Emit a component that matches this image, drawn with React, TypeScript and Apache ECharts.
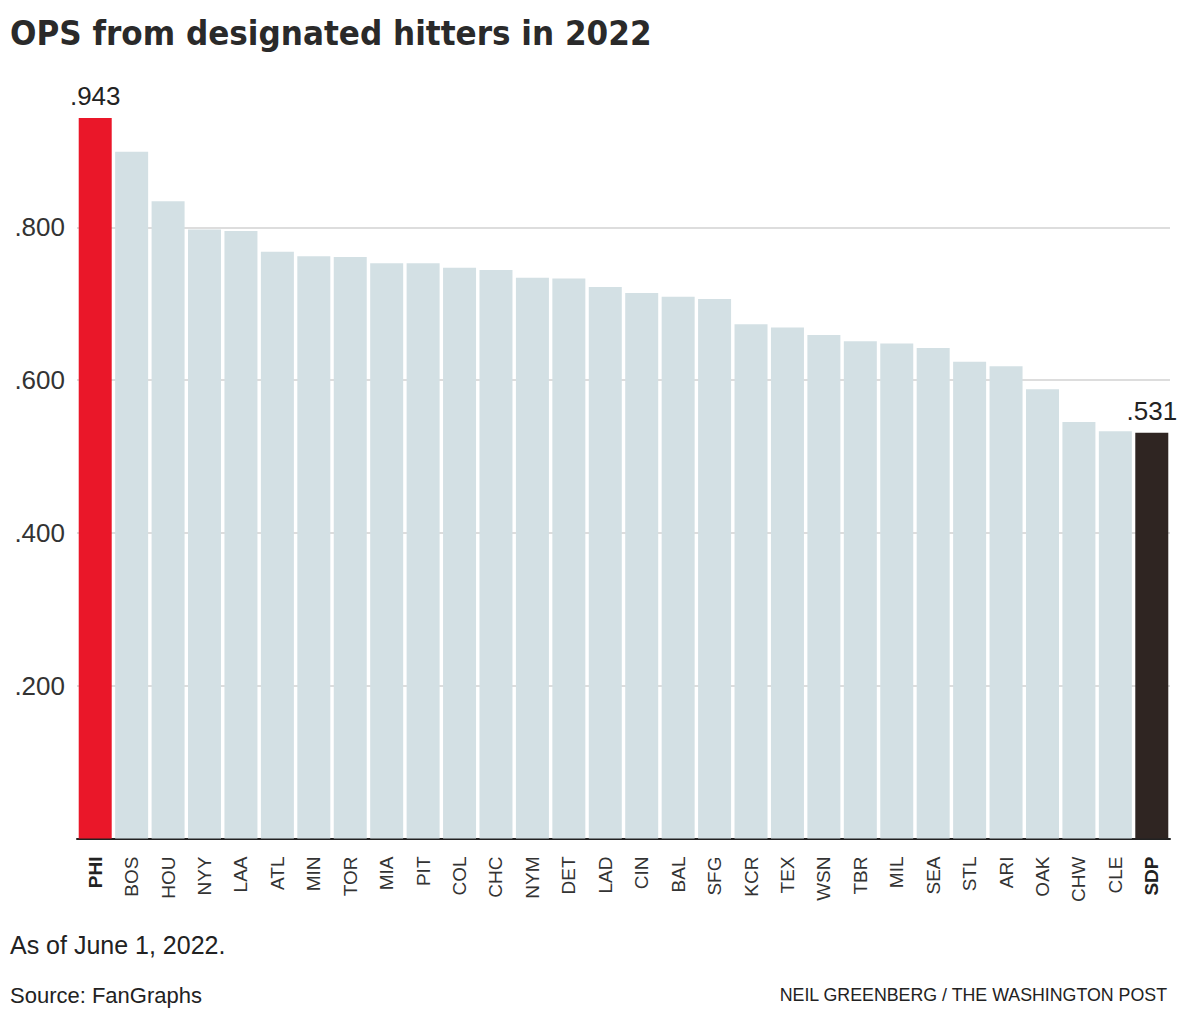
import React, { useEffect, useRef } from "react";
import * as echarts from "echarts";

const teams = ["PHI","BOS","HOU","NYY","LAA","ATL","MIN","TOR","MIA","PIT","COL","CHC","NYM","DET","LAD","CIN","BAL","SFG","KCR","TEX","WSN","TBR","MIL","SEA","STL","ARI","OAK","CHW","CLE","SDP"];
const ops = [0.943,0.899,0.834,0.797,0.795,0.768,0.762,0.761,0.753,0.753,0.747,0.744,0.734,0.733,0.722,0.714,0.709,0.706,0.673,0.669,0.659,0.651,0.648,0.642,0.624,0.618,0.588,0.545,0.533,0.531];
const gridValues = [0.2, 0.4, 0.6, 0.8];
const highlightTop = "PHI";
const highlightBottom = "SDP";

const title = "OPS from designated hitters in 2022";
const note = "As of June 1, 2022.";
const source = "Source: FanGraphs";
const credit = "NEIL GREENBERG / THE WASHINGTON POST";

const fmt = (v: number) => v.toFixed(3).replace(/^0/, "");
const FONT = "Liberation Sans, Arial, sans-serif";

export default function App() {
  const ref = useRef<HTMLDivElement>(null);
  useEffect(() => {
    if (!ref.current) return;
    const chart = echarts.init(ref.current, null, { renderer: "svg" });
    const data = ops.map((v, i) => {
      const t = teams[i];
      const color = t === highlightTop ? "#EA1729" : t === highlightBottom ? "#2F2522" : "#D3E0E4";
      const item: any = { value: v, itemStyle: { color } };
      if (t === highlightTop || t === highlightBottom) {
        item.label = {
          show: true,
          position: "top",
          distance: 9,
          formatter: (p: any) => fmt(p.value),
          fontSize: 26,
          color: "#222",
          fontFamily: FONT,
        };
      }
      return item;
    });
    chart.setOption({
      animation: false,
      backgroundColor: "#fff",
      grid: { left: 77, right: 10, top: 74.5, bottom: 181.5, containLabel: false },
      xAxis: {
        type: "category",
        data: teams,
        axisLine: { show: true, lineStyle: { color: "#222", width: 2 } },
        axisTick: { show: false },
        axisLabel: {
          interval: 0,
          rotate: 90,
          margin: 18,
          fontSize: 19,
          color: "#333",
          fontFamily: FONT,
          formatter: (v: string) => (v === highlightTop || v === highlightBottom ? `{b|${v}}` : v),
          rich: { b: { fontWeight: "bold", fontSize: 19, color: "#222", fontFamily: FONT } },
        },
      },
      yAxis: {
        type: "value",
        min: 0,
        max: 1.0,
        interval: 0.2,
        axisLine: { show: false },
        axisTick: { show: false },
        splitLine: { show: false },
        axisLabel: {
          margin: 12,
          fontSize: 26,
          color: "#333",
          fontFamily: FONT,
          formatter: (v: number) => (v <= 0 || v > 0.9 ? "" : fmt(v)),
        },
      },
      series: [
        {
          type: "bar",
          data,
          barWidth: 33,
          z: 3,
          markLine: {
            silent: true,
            symbol: "none",
            label: { show: false },
            lineStyle: { color: "#DDDDDD", width: 2, type: "solid" },
            z: 1,
            data: gridValues.map((y) => ({ yAxis: y })),
          },
        },
      ],
      graphic: [
        {
          type: "text",
          left: 10,
          top: 15,
          style: {
            text: title,
            fontSize: 34.6,
            fontWeight: "bold",
            fill: "#2A2A2A",
            fontFamily: "DejaVu Sans Condensed, sans-serif",
          },
        },
        {
          type: "text",
          left: 10,
          top: 932,
          style: { text: note, fontSize: 25, fill: "#222", fontFamily: FONT },
        },
        {
          type: "text",
          left: 10,
          top: 984,
          style: { text: source, fontSize: 22, fill: "#222", fontFamily: FONT },
        },
        {
          type: "text",
          right: 12,
          top: 986,
          style: { text: credit, fontSize: 17.8, fill: "#222", fontFamily: FONT },
        },
      ],
    });
    return () => chart.dispose();
  }, []);
  return <div ref={ref} style={{ position: "fixed", left: 0, top: 0, width: 1180, height: 1020 }} />;
}
